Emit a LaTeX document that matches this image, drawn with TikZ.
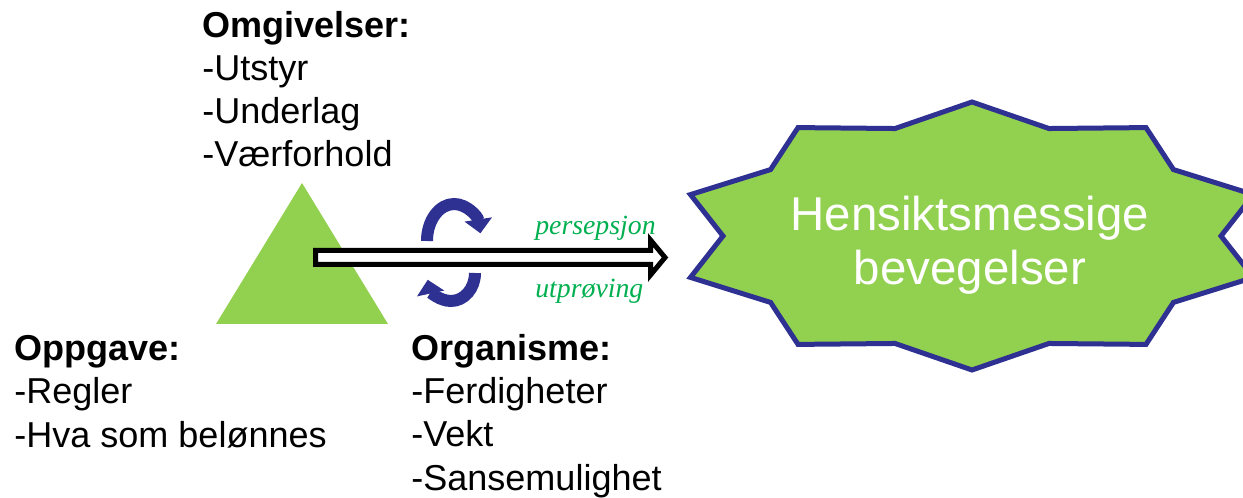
\documentclass[tikz,border=0pt]{standalone}
\usepackage{fontspec}
\setmainfont{Liberation Sans}
\newfontfamily\serifit{Liberation Serif}
\usepackage{xcolor}
\usepackage{tikz}
\usetikzlibrary{arrows.meta}

\definecolor{leafgreen}{HTML}{92D050}
\definecolor{turnblue}{HTML}{2E3192}
\definecolor{wordgreen}{HTML}{00B050}

\begin{document}
\begin{tikzpicture}[x=0.2mm, y=0.2mm,
    listtext/.style = {align=left, inner sep=0pt, anchor=base west, font=\fontsize{20.5}{24.6}\selectfont},
    flowword/.style = {inner sep=0pt, anchor=base west, text=wordgreen, font=\serifit\itshape\fontsize{15.8}{18}\selectfont},
    goaltext/.style = {align=center, inner sep=0pt, text=white, font=\fontsize{27}{31}\selectfont},
    turnarrow/.style = {draw=turnblue, line width=2.4mm, -{Triangle[width=5.4mm,length=2.8mm]}},
    starline/.style = {draw=turnblue, fill=leafgreen, line width=1mm, line join=miter}]
		\useasboundingbox (0,0) rectangle (1243,497);
		
		% lists are placed by the baseline of their last line
		\node[listtext] (omgivelser) at (202,330) {\textbf{Omgivelser:}\\-Utstyr\\-Underlag\\-Værforhold};
		\node[listtext] (oppgave) at (14,50) {\textbf{Oppgave:}\\-Regler\\-Hva som belønnes};
		\node[listtext] (organisme) at (411,7) {\textbf{Organisme:}\\-Ferdigheter\\-Vekt\\-Sansemulighet};
		
		\fill[leafgreen] (302,314) -- (216,173) -- (388,173) -- cycle;
		
		\path[shape=coordinate]
		(315.5,239.5) coordinate(arrowstart)
		(665,239.5) coordinate(arrowtip);
		
		\draw[fill=white, line width=1mm] (arrowstart) ++(0,7) -- (650.5,246.5) -- (650.5,257) -- (arrowtip) -- (650.5,222) -- (650.5,232.5) -- ++(-335,0) -- cycle;
		
		\path[shape=coordinate]
		(454,256) coordinate(upturn)
		(451,224) coordinate(downturn);
		
		\draw[turnarrow] (upturn) ++(180:27 and 37) arc[start angle=180, end angle=12, x radius=27, y radius=37];
		\draw[turnarrow] (downturn) ++(0:24 and 28) arc[start angle=0, end angle=-166, x radius=24, y radius=28];
		
		\node[flowword] (persepsjon) at (535,262) {persepsjon};
		\node[flowword] (utproving) at (535,200) {utprøving};
		
		\begin{scope}[shift={(972,261)}]
			\draw[starline] (90:296 and 134) \foreach \a in {72,36,...,-216} { -- (\a:249 and 113) -- ({\a-18}:296 and 134)} -- (108:249 and 113) -- cycle;
		\end{scope}
		\node[goaltext] (goal) at (970,252) {Hensiktsmessige\\bevegelser};
	\end{tikzpicture}
\end{document}
